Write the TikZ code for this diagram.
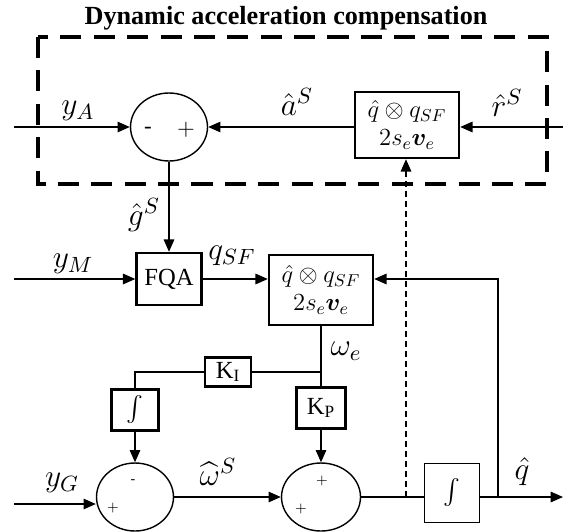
\RequirePackage{fix-cm}
\documentclass[tikz,border=0pt]{standalone}
\usepackage{fontspec}
\setmainfont{Liberation Serif}
\usepackage{amsmath,bm}
\usetikzlibrary{positioning,arrows.meta,shapes.geometric,calc}

\begin{document}
\begin{tikzpicture}[x=0.02cm, y=-0.02cm,
    every node/.style={font=\fontsize{14}{16}\selectfont},
    blk/.style={draw, line width=1.4pt, align=center, inner sep=1pt},
    sum/.style={draw, ellipse, line width=0.8pt, minimum width=1.54cm,
                minimum height=1.36cm, inner sep=0pt},
    lbl/.style={scale=1.28, transform shape},
    sgn/.style={font=\fontsize{8}{9}\selectfont, inner sep=0pt},
    bigsgn/.style={font=\fontsize{10}{12}\selectfont, inner sep=0pt, scale=1.3, transform shape},
    arr/.style={-{Triangle[length=7pt,width=6pt]}, line width=0.7pt},
    ln/.style={line width=0.7pt}]
  \useasboundingbox (0,0) rectangle (563,531);
  \node[font=\fontsize{14.9}{18}\selectfont\bfseries] (title) at (286,18)
       {Dynamic acceleration compensation};
  \draw[line width=2.3pt, dash pattern=on 12pt off 7pt] (38,37) rectangle (547,184);
  % top row
  \node[sum] (sumA) at (169,127) {};
  \node[bigsgn] (sAm) at ($(sumA)+(-21,3)$) {-};
  \node[bigsgn] (sAp) at ($(sumA)+(17,3)$) {$+$};
  \node[blk, minimum width=2.08cm, minimum height=1.32cm] (rotA) at (407,125)
       {$\hat q\otimes q_{SF}$\\$2s_e\bm{v}_e$};
  \coordinate (yA) at (14,127);
  \coordinate (rA) at (563,127);
  % middle row
  \node[blk, minimum width=1.3cm, minimum height=1.04cm] (fqa) at (169,279) {FQA};
  \node[blk, minimum width=2.08cm, minimum height=1.4cm] (rotB) at (321,290)
       {$\hat q\otimes q_{SF}$\\$2s_e\bm{v}_e$};
  \coordinate (yM) at (14,279);
  \coordinate (wE) at (321,372);
  \node[blk, minimum width=0.92cm, minimum height=0.58cm] (ki) at (228,372) {K\textsubscript{I}};
  \node[blk, minimum width=0.94cm, minimum height=0.82cm] (intL) at (135,410) {$\int$};
  \node[blk, minimum width=0.98cm, minimum height=0.82cm] (kp) at (321,408) {K\textsubscript{P}};
  % bottom row
  \node[sum] (sumL) at (135,497) {};
  \node[sgn] (sLm) at ($(sumL)+(-2,-15)$) {-};
  \node[sgn] (sLp) at ($(sumL)+(-22,11)$) {$+$};
  \node[sum, minimum width=1.58cm] (sumR) at (321,497) {};
  \node[sgn] (sRt) at ($(sumR)+(1,-16)$) {$+$};
  \node[sgn] (sRb) at ($(sumR)+(-20,12)$) {$+$};
  \node[blk, line width=1pt, minimum width=1.1cm, minimum height=1.18cm] (intR) at (452,493) {$\int$};
  \coordinate (yG) at (14,504);
  \coordinate (tap) at (406,497);
  \coordinate (fb) at (498,497);
  \coordinate (qout) at (563,497);
  % labels
  \node[lbl] (lyA) at (78,111) {$y_A$};
  \node[lbl] (laS) at (297,102) {$\hat a^S$};
  \node[lbl] (lrS) at (507,103) {$\hat r^S$};
  \node[lbl] (lgS) at (144,215) {$\hat g^S$};
  \node[lbl] (lyM) at (73,264) {$y_M$};
  \node[lbl] (lqSF) at (232,256) {$q_{SF}$};
  \node[lbl] (lwe) at (346,351) {$\omega_e$};
  \node[lbl] (lyG) at (62,483) {$y_G$};
  \node[lbl] (lwS) at (218,472) {$\widehat{\omega}^S$};
  \node[lbl] (lq) at (522,472) {$\hat q$};
  % connectors
  \draw[arr] (yA) -- (sumA.west);
  \draw[arr] (rA) -- (rA -| rotA.east);
  \draw[arr] (rA -| rotA.west) -- (sumA.east);
  \draw[arr] (sumA.south) -- (fqa.north);
  \draw[arr] (yM) -- (fqa.west);
  \draw[arr] (fqa.east) -- (fqa.east -| rotB.west);
  \draw[ln] (rotB.south) -- (kp.north);
  \draw[ln] (wE) -- (ki.east);
  \draw[ln] (ki.west) -| (intL.north);
  \draw[arr] (intL.south) -- (sumL.north);
  \draw[arr] (kp.south) -- (sumR.north);
  \draw[arr] (yG) -- (yG -| sumL.west);
  \draw[arr] (sumL.east) -- (sumR.west);
  \draw[ln] (sumR.east) -- (sumR.east -| intR.west);
  \draw[arr] (sumR.east -| intR.east) -- (qout);
  \draw[arr] (fb) |- (fqa.east -| rotB.east);
  \draw[arr, dash pattern=on 3.4pt off 2.3pt] (tap) -- (tap |- rotA.south);
\end{tikzpicture}
\end{document}
